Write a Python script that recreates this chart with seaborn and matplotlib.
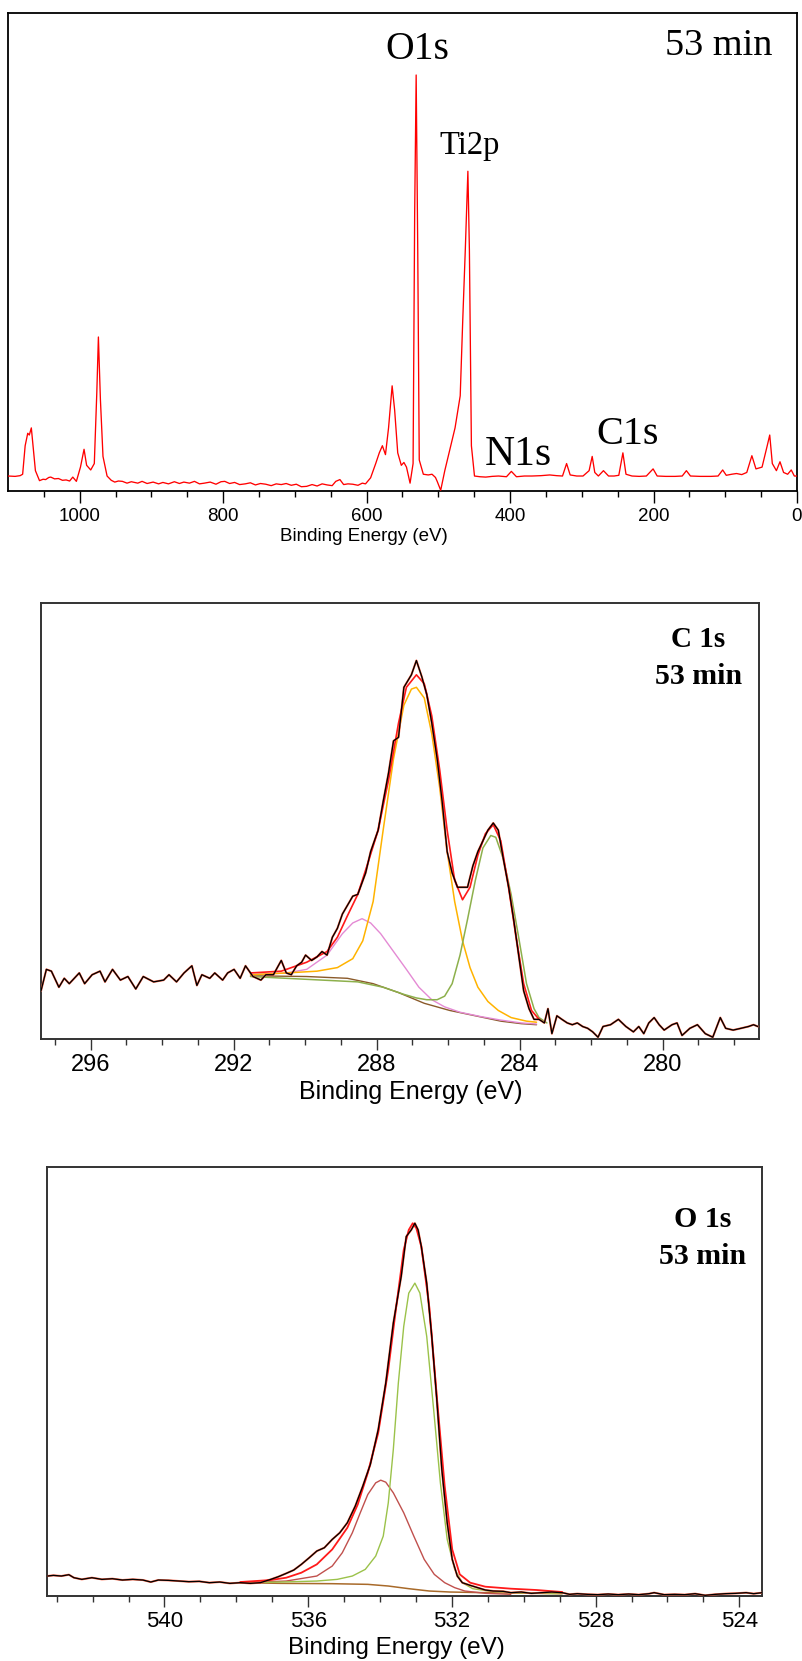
import matplotlib
matplotlib.use("Agg")
import matplotlib.pyplot as plt
import seaborn as sns
from matplotlib.ticker import MultipleLocator

sns.set_style("white")
plt.rcParams['font.family'] = ['Liberation Sans', 'DejaVu Sans']
plt.rcParams.update({'text.color': 'black', 'axes.labelcolor': 'black',
                     'xtick.color': 'black', 'xtick.labelcolor': 'black'})

# ---------------- Survey spectrum (binding energy eV, intensity a.u.) ----------------
survey_be = [
    1099.5, 1090, 1083, 1079.5, 1076, 1072.4, 1070.2, 1067.4, 1064.5, 1061.7,
    1056, 1051, 1047.4, 1043, 1040.3, 1035, 1029.6, 1024, 1018.9, 1014,
    1009.6, 1004.6, 998.9, 993.9, 990.3, 984.6, 979.6, 976.1, 973.9, 971.1,
    967.5, 961.8, 956, 951.1, 946, 940.4, 934, 928, 919, 913,
    906, 897.6, 890, 884, 876.2, 868, 861, 854.8, 847, 840,
    833, 826.2, 818, 810, 803, 797.7, 791, 784, 777, 769.2,
    762, 755, 748, 740.6, 733, 726, 719, 712.1, 705, 698,
    691, 683.6, 676, 669, 662, 655, 648, 643, 637.2, 632,
    626, 619.4, 612, 606, 601.5, 594.4, 587.3, 582.3, 578, 573.7,
    569.4, 564.4, 560.9, 556.6, 551.6, 548, 544.4, 539.4, 535.2, 533,
    530.9, 528.7, 526.6, 520.9, 514, 508.8, 504, 501.6, 496.7, 491,
    483.8, 476.7, 469.5, 466, 462.4, 458.8, 456.7, 453.9, 449.6, 442,
    433.9, 425, 416.1, 405, 398.2, 391.1, 380, 369.7, 357, 344.7,
    335, 326.9, 321.2, 316.2, 307, 298.3, 289.8, 285.5, 281.9, 276.9,
    269.8, 262.7, 255, 248.4, 242.7, 238.4, 230, 219.9, 210, 200.6,
    194.9, 183, 169.9, 160, 154.2, 148.5, 135, 120, 110, 103.6,
    98.6, 91, 84.3, 77, 70, 62.9, 57.2, 48.7, 41.5, 38,
    34.4, 28.7, 23.7, 18.7, 13, 8, 3.7, 0.1]
survey_int = [
    42, 41, 43, 47, 127, 162, 157, 177, 117, 57,
    29, 33, 32, 38, 39, 34, 35, 30, 31, 28,
    39, 27, 67, 117, 72, 59, 77, 277, 432, 257,
    97, 42, 30, 25, 28, 27, 22, 26, 22, 27,
    21, 25, 20, 24, 20, 26, 21, 25, 22, 27,
    20, 22, 25, 19, 26, 27, 21, 24, 18, 20,
    23, 17, 21, 19, 15, 20, 18, 21, 16, 19,
    12, 13, 18, 14, 20, 17, 15, 27, 32, 18,
    20, 19, 16, 22, 20, 37, 77, 107, 127, 102,
    177, 295, 227, 107, 72, 80, 67, 22, 77, 777,
    1167, 677, 87, 47, 45, 47, 38, 27, 2, 57,
    117, 177, 267, 477, 677, 897, 677, 127, 42, 40,
    39, 41, 42, 40, 55, 40, 42, 42, 43, 45,
    43, 42, 77, 45, 42, 42, 57, 97, 52, 42,
    57, 42, 42, 44, 107, 47, 42, 41, 42, 62,
    42, 41, 41, 42, 57, 42, 41, 41, 42, 59,
    44, 47, 49, 46, 52, 99, 62, 67, 127, 157,
    77, 57, 82, 52, 47, 59, 42, 42]
survey_labels = ["O1s", "Ti2p", "N1s", "C1s"]

# ---------------- C 1s high resolution ----------------
c1s_data_be = [
    297.39, 297.24, 297.10, 296.89, 296.74, 296.60, 296.32, 296.17, 295.96, 295.74,
    295.60, 295.39, 295.17, 294.96, 294.74, 294.53, 294.24, 293.96, 293.81, 293.60,
    293.39, 293.17, 293.03, 292.89, 292.67, 292.53, 292.31, 292.17, 291.99, 291.82,
    291.67, 291.46, 291.24, 291.10, 290.89, 290.67, 290.53, 290.39, 290.24, 290.10,
    289.99, 289.82, 289.67, 289.53, 289.39, 289.24, 289.10, 288.96, 288.67, 288.53,
    288.31, 288.17, 287.96, 287.82, 287.67, 287.53, 287.39, 287.24, 287.03, 286.89,
    286.74, 286.60, 286.46, 286.31, 286.17, 286.03, 285.89, 285.74, 285.60, 285.46,
    285.31, 285.17, 285.03, 284.89, 284.74, 284.60, 284.46, 284.31, 284.17, 284.03,
    283.89, 283.74, 283.60, 283.46, 283.31, 283.21, 283.10, 282.96, 282.82, 282.67,
    282.53, 282.39, 282.24, 282.10, 281.96, 281.81, 281.67, 281.46, 281.24, 281.03,
    280.82, 280.67, 280.53, 280.39, 280.24, 280.10, 279.96, 279.74, 279.60, 279.46,
    279.24, 279.03, 278.81, 278.60, 278.39, 278.24, 278.03, 277.81, 277.60, 277.46,
    277.34]
c1s_data_int = [
    135, 195, 190, 145, 170, 155, 185, 155, 180, 190,
    160, 195, 165, 175, 140, 175, 160, 165, 180, 160,
    185, 205, 150, 180, 170, 185, 165, 185, 195, 170,
    205, 175, 165, 180, 180, 220, 185, 180, 205, 215,
    235, 220, 230, 245, 235, 285, 310, 350, 400, 405,
    465, 525, 585, 665, 745, 835, 845, 985, 1020, 1060,
    1015, 965, 885, 785, 665, 525, 465, 425, 425, 425,
    485, 525, 555, 585, 605, 585, 505, 425, 335, 235,
    135, 85, 55, 55, 45, 85, 15, 65, 55, 45,
    40, 45, 35, 30, 20, 5, 35, 40, 55, 35,
    20, 35, 15, 45, 60, 40, 25, 40, 45, 10,
    30, 40, 15, 5, 60, 30, 25, 30, 35, 40,
    35]
c1s_env_be = [291.53, 290.67, 289.96, 289.39, 289.10, 288.82, 288.53, 288.24, 287.96, 287.67,
              287.39, 287.17, 286.89, 286.67, 286.46, 286.24, 286.03, 285.82, 285.60, 285.39,
              285.17, 284.96, 284.74, 284.53, 284.31, 284.10, 283.89, 283.67, 283.46]
c1s_env_int = [185, 190, 215, 245, 285, 345, 405, 495, 585, 725,
               885, 985, 1020, 995, 905, 755, 585, 445, 390, 425,
               515, 575, 600, 555, 425, 285, 155, 80, 55]
c1s_orange_be = [291.53, 290.53, 289.67, 289.10, 288.67, 288.39, 288.10, 287.82, 287.53, 287.24,
                 287.03, 286.89, 286.67, 286.46, 286.24, 286.03, 285.82, 285.60, 285.39, 285.17,
                 284.89, 284.60, 284.24, 283.81, 283.53]
c1s_orange_int = [180, 185, 190, 200, 225, 275, 385, 585, 785, 935,
                  980, 985, 955, 855, 705, 525, 385, 275, 200, 145,
                  105, 80, 60, 50, 47]
c1s_pink_be = [291.53, 290.53, 289.96, 289.39, 288.96, 288.67, 288.41, 288.17, 287.89, 287.53,
               287.17, 286.82, 286.46, 286.10, 285.67, 285.10, 284.53, 283.96, 283.53]
c1s_pink_int = [180, 185, 195, 235, 295, 325, 337, 325, 295, 245,
                195, 145, 110, 90, 75, 63, 53, 45, 42]
c1s_green_be = [291.53, 288.53, 287.82, 287.24, 286.89, 286.60, 286.31, 286.10, 285.89, 285.67,
                285.46, 285.24, 285.03, 284.81, 284.67, 284.46, 284.24, 284.03, 283.81, 283.60,
                283.46, 283.24]
c1s_green_int = [175, 160, 145, 125, 115, 110, 110, 120, 155, 235,
                 335, 445, 535, 570, 565, 505, 405, 285, 155, 85,
                 60, 45]
c1s_bg_be = [291.53, 289.96, 288.82, 288.10, 287.39, 286.67, 285.96, 285.24, 284.53, 283.96, 283.53]
c1s_bg_int = [177, 175, 170, 155, 130, 100, 80, 65, 50, 43, 40]

# ---------------- O 1s high resolution ----------------
o1s_data_be = [
    543.26, 543.09, 542.87, 542.66, 542.52, 542.30, 542.02, 541.74, 541.45, 541.17,
    540.88, 540.60, 540.38, 540.17, 539.89, 539.60, 539.32, 539.03, 538.75, 538.46,
    538.18, 537.89, 537.61, 537.33, 537.04, 536.83, 536.61, 536.40, 536.19, 535.97,
    535.76, 535.55, 535.33, 535.12, 534.91, 534.69, 534.48, 534.27, 534.05, 533.84,
    533.63, 533.41, 533.27, 533.13, 533.03, 532.94, 532.85, 532.70, 532.56, 532.42,
    532.28, 532.13, 531.99, 531.85, 531.71, 531.49, 531.28, 531.07, 530.85, 530.57,
    530.36, 530.07, 529.79, 529.50, 529.22, 528.93, 528.72, 528.51, 528.22, 527.94,
    527.65, 527.37, 527.08, 526.80, 526.51, 526.37, 526.09, 525.80, 525.52, 525.23,
    524.95, 524.67, 524.38, 524.10, 523.81, 523.60, 523.36]
o1s_data_int = [
    60, 62, 60, 64, 55, 50, 55, 50, 52, 48,
    50, 48, 42, 48, 47, 45, 43, 44, 40, 42,
    38, 40, 38, 40, 50, 58, 68, 78, 95, 115,
    135, 145, 170, 190, 220, 270, 330, 395, 500, 640,
    820, 960, 1080, 1100, 1120, 1100, 1050, 940, 780, 590,
    380, 220, 110, 60, 40, 32, 25, 18, 15, 14,
    10, 12, 8, 10, 12, 10, 5, 7, 5, 4,
    6, 4, 6, 4, 7, 10, 4, 5, 4, 7,
    2, 5, 7, 8, 10, 7, 10]
o1s_env_be = [537.89, 537.04, 536.61, 536.19, 535.76, 535.33, 534.91, 534.62, 534.34, 534.05,
              533.77, 533.56, 533.34, 533.20, 533.09, 532.99, 532.85, 532.63, 532.42, 532.20,
              531.99, 531.78, 531.49, 531.07, 530.36, 529.64, 528.93]
o1s_env_int = [42, 48, 55, 70, 95, 140, 205, 275, 370, 490,
               680, 860, 1040, 1100, 1120, 1105, 1050, 870, 600, 330,
               140, 65, 40, 28, 22, 18, 12]
o1s_green_be = [537.89, 536.76, 535.76, 535.19, 534.77, 534.41, 534.12, 533.91, 533.77, 533.63,
                533.49, 533.34, 533.20, 533.03, 532.89, 532.70, 532.49, 532.32, 532.13, 531.92,
                531.71, 531.42, 530.92, 530.36, 529.64, 528.93]
o1s_green_int = [40, 42, 45, 50, 60, 80, 120, 180, 280, 440,
                 640, 810, 910, 940, 910, 780, 540, 340, 170, 80,
                 40, 22, 14, 10, 8, 7]
o1s_red_be = [537.89, 536.61, 535.76, 535.33, 535.05, 534.77, 534.55, 534.34, 534.12, 533.98,
              533.84, 533.63, 533.34, 533.06, 532.77, 532.49, 532.20, 531.92, 531.64, 531.07,
              530.36]
o1s_red_int = [40, 45, 60, 90, 130, 190, 250, 305, 340, 348,
               342, 310, 250, 180, 110, 65, 40, 25, 15, 8,
               5]
o1s_bg_be = [537.89, 536.76, 535.33, 534.34, 533.77, 533.20, 532.63, 532.06, 531.07, 530.36, 528.93]
o1s_bg_int = [40, 38, 37, 35, 30, 22, 15, 12, 10, 9, 7]

XLABEL = "Binding Energy (eV)"
SERIF = ['Liberation Serif', 'DejaVu Serif']


def line(ax, x, y, color, lw, z):
    sns.lineplot(x=x, y=y, ax=ax, color=color, linewidth=lw, estimator=None,
                 sort=True, zorder=z, legend=False)


def style(ax, xlim, ylim, major, minor, tick_fs, maj_len, min_len, spine_color,
          spine_lw, xlabel_fs, label_xy, tickpad):
    ax.set_xlim(*xlim)
    ax.set_ylim(*ylim)
    ax.xaxis.set_major_locator(MultipleLocator(major))
    ax.xaxis.set_minor_locator(MultipleLocator(minor))
    ax.tick_params(axis='x', which='both', bottom=True, top=False, direction='out',
                   color=spine_color, width=1.0, labelcolor='black')
    ax.tick_params(axis='x', which='major', length=maj_len, labelsize=tick_fs, pad=tickpad)
    ax.tick_params(axis='x', which='minor', length=min_len)
    ax.set_yticks([])
    ax.tick_params(axis='y', left=False, right=False)
    for s in ax.spines.values():
        s.set_visible(True)
        s.set_color(spine_color)
        s.set_linewidth(spine_lw)
    ax.set_xlabel(XLABEL, fontsize=xlabel_fs, color='black')
    ax.xaxis.label.set_va('center')
    ax.xaxis.set_label_coords(*label_xy)
    ax.set_ylabel("")
    ax.set_facecolor("white")


fig = plt.figure(figsize=(8.02, 16.61), dpi=100)
fig.patch.set_facecolor("white")

# ---- Panel 1: survey ----
ax1 = fig.add_axes([0.01035, 0.7044, 0.9834, 0.2880])
line(ax1, survey_be, survey_int, "#ff0000", 0.95, 3)
style(ax1, (1099.5, 0), (0, 1342), 200, 50, 13.5, 8.5, 4.5, "#000000", 1.3, 13.5,
      (0.451, -0.0941), 3.5)
ax1.text(0.519, 0.9034, survey_labels[0], transform=ax1.transAxes, ha='center',
         va='baseline', fontsize=28.5, family=SERIF)
ax1.text(0.9007, 0.9107, "53 min", transform=ax1.transAxes, ha='center',
         va='baseline', fontsize=27.5, family=SERIF)
ax1.text(0.5855, 0.704, survey_labels[1], transform=ax1.transAxes, ha='center',
         va='baseline', fontsize=23.5, family=SERIF)
ax1.text(0.6468, 0.0544, survey_labels[2], transform=ax1.transAxes, ha='center',
         va='baseline', fontsize=30, family=SERIF)
ax1.text(0.7856, 0.0985, survey_labels[3], transform=ax1.transAxes, ha='center',
         va='baseline', fontsize=29, family=SERIF)

# ---- Panel 2: C 1s ----
ax2 = fig.add_axes([0.0507, 0.37447, 0.8960, 0.26268])
line(ax2, c1s_bg_be, c1s_bg_int, "#8a5a2a", 1.0, 2)
line(ax2, c1s_pink_be, c1s_pink_int, "#e48ad4", 1.0, 3)
line(ax2, c1s_orange_be, c1s_orange_int, "#ffb300", 1.1, 3)
line(ax2, c1s_green_be, c1s_green_int, "#8db04c", 1.1, 3)
line(ax2, c1s_data_be, c1s_data_int, "#ff6a4c", 1.5, 3)
line(ax2, c1s_env_be, c1s_env_int, "#ff1a1a", 1.2, 4)
line(ax2, c1s_data_be, c1s_data_int, "#000000", 0.95, 5)
style(ax2, (297.4, 277.3), (0, 1222), 4, 1, 17, 8, 4, "#333333", 1.4, 18,
      (0.515, -0.1215), 3)
ax2.text(0.9143, 0.899, "C 1s", transform=ax2.transAxes, ha='center', va='baseline',
         fontsize=21, fontweight='bold', family=SERIF)
ax2.text(0.915, 0.813, "53 min", transform=ax2.transAxes, ha='center', va='baseline',
         fontsize=21.5, fontweight='bold', family=SERIF)

# ---- Panel 3: O 1s ----
ax3 = fig.add_axes([0.0590, 0.03913, 0.8915, 0.2581])
line(ax3, o1s_bg_be, o1s_bg_int, "#a86a2a", 1.1, 2)
line(ax3, o1s_red_be, o1s_red_int, "#c0504d", 1.0, 3)
line(ax3, o1s_green_be, o1s_green_int, "#9bc24a", 1.0, 3)
line(ax3, o1s_data_be, o1s_data_int, "#ff6a4c", 1.5, 3)
line(ax3, o1s_env_be, o1s_env_int, "#ff1a1a", 1.3, 4)
line(ax3, o1s_data_be, o1s_data_int, "#000000", 0.95, 5)
style(ax3, (543.26, 523.36), (0, 1288), 4, 1, 16, 7.7, 4.5, "#333333", 1.4, 17.5,
      (0.4877, -0.1213), 3)
ax3.text(0.9168, 0.8614, "O 1s", transform=ax3.transAxes, ha='center', va='baseline',
         fontsize=21.5, fontweight='bold', family=SERIF)
ax3.text(0.9168, 0.7737, "53 min", transform=ax3.transAxes, ha='center', va='baseline',
         fontsize=21.5, fontweight='bold', family=SERIF)

fig.savefig("out.png", dpi=100, facecolor="white")
